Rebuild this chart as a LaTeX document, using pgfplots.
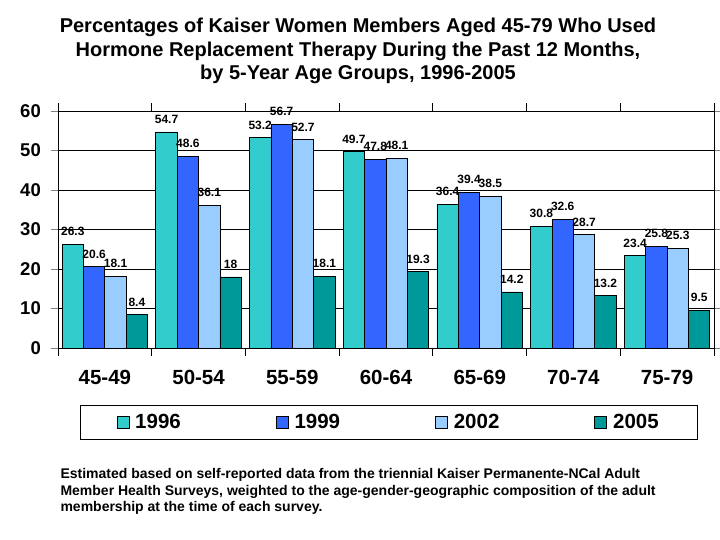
\documentclass[border=0pt]{standalone}
\usepackage{pgfplots}
\pgfplotsset{compat=1.18}
\usepackage{fontspec}
\setmainfont{Liberation Sans}
\definecolor{cA}{RGB}{51,204,204}
\definecolor{cB}{RGB}{51,102,255}
\definecolor{cC}{RGB}{153,204,255}
\definecolor{cD}{RGB}{0,153,153}
\begin{document}
\begin{tikzpicture}
\path[use as bounding box] (0,0) rectangle (720pt,-540pt);
\node[font=\bfseries\fontsize{20}{23.5}\selectfont, align=center] at (358pt,-51pt)
 {Percentages of Kaiser Women Members Aged 45-79 Who Used\\
  Hormone Replacement Therapy During the Past 12 Months,\\
  by 5-Year Age Groups, 1996-2005};
\begin{axis}[
  at={(58pt,-348pt)}, anchor=south west,
  scale only axis, width=656pt, height=237pt,
  xmin=-0.5, xmax=6.5, ymin=0, ymax=60,
  ytick={0,10,...,60},
  xtick={0,...,6},
  xticklabels={45-49,50-54,55-59,60-64,65-69,70-74,75-79},
  minor xtick={-0.5,0.5,...,6.5},
  ymajorgrids, grid style={black, line width=0.8pt},
  axis line style={line width=0.8pt},
  tick align=outside, major tick length=7pt, minor tick length=8pt,
  major x tick style={draw=none},
  minor x tick style={draw=black, line width=0.8pt},
  major y tick style={line width=0.8pt},
  yticklabel style={font=\bfseries\fontsize{18.5}{20}\selectfont, inner sep=0pt, xshift=-10pt},
  xticklabel style={font=\bfseries\fontsize{20.5}{22}\selectfont, yshift=-12pt},
  /pgf/number format/assume math mode=true,
  ybar=0pt, bar width=0.228,
  every axis plot/.append style={draw=black, line width=0.8pt},
  nodes near coords,
  every node near coord/.append style={font=\bfseries\fontsize{12}{12}\selectfont, anchor=south, inner sep=1pt, yshift=7pt},
  legend columns=4,
  legend style={at={(0.504,-0.314)}, anchor=center, draw=black,
    font=\bfseries\fontsize{20.5}{22}\selectfont,
    /tikz/every even column/.append style={column sep=93pt},
    inner xsep=36pt, inner ysep=7pt},
  legend image code/.code={\draw[#1, line width=0.6pt] (0pt,-6pt) rectangle (12pt,6pt); \path (16pt,0pt);},
]
\addplot[fill=cA, bar shift=-0.342] coordinates {(0,26.3) (1,54.7) (2,53.2) (3,49.7) (4,36.4) (5,30.8) (6,23.4)};
\addplot[fill=cB, bar shift=-0.114] coordinates {(0,20.6) (1,48.6) (2,56.7) (3,47.8) (4,39.4) (5,32.6) (6,25.8)};
\addplot[fill=cC, bar shift=0.114] coordinates {(0,18.1) (1,36.1) (2,52.7) (3,48.1) (4,38.5) (5,28.7) (6,25.3)};
\addplot[fill=cD, bar shift=0.342] coordinates {(0,8.4) (1,18) (2,18.1) (3,19.3) (4,14.2) (5,13.2) (6,9.5)};
\legend{1996,1999,2002,2005}
\end{axis}
\node[anchor=north west, font=\bfseries\fontsize{14}{16.5}\selectfont, align=left] at (57pt,-465pt)
 {Estimated based on self-reported data from the triennial Kaiser Permanente-NCal Adult\\
  Member Health Surveys, weighted to the age-gender-geographic composition of the adult\\
  membership at the time of each survey.};
\end{tikzpicture}
\end{document}
